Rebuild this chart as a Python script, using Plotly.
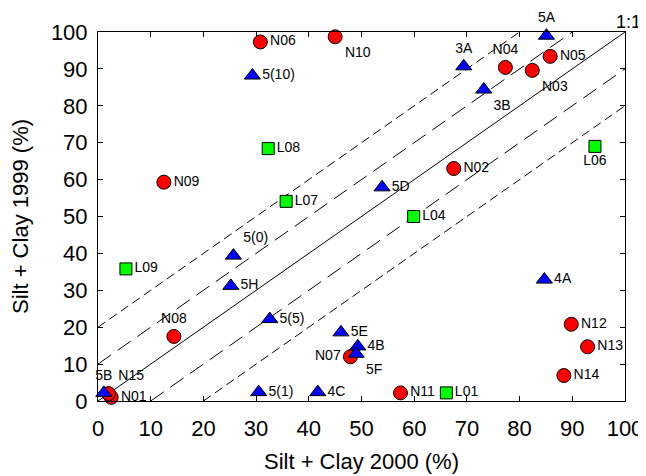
import plotly.graph_objects as go

# N sites (red circles)
n_names = ["N01", "N02", "N03", "N04", "N05", "N06", "N07", "N08",
           "N09", "N10", "N11", "N12", "N13", "N14", "N15"]
n_x = [2.5, 67.5, 82.4, 77.3, 85.8, 30.8, 47.9, 14.4, 12.5, 45.0, 57.4, 89.8, 92.9, 88.4, 2.0]
n_y = [1.0, 63.0, 89.6, 90.4, 93.4, 97.3, 12.0, 17.5, 59.3, 98.7, 2.2, 20.8, 14.7, 6.9, 2.0]

# numbered sites (blue triangles)
t_names = ["3A", "3B", "4A", "4B", "4C", "5A", "5B", "5D", "5E", "5F",
           "5H", "5(0)", "5(1)", "5(5)", "5(10)"]
t_x = [69.4, 73.2, 84.7, 49.3, 41.7, 85.1, 1.1, 53.9, 46.1, 49.0, 25.2, 25.7, 30.5, 32.6, 29.3]
t_y = [90.7, 84.4, 32.9, 14.8, 2.4, 99.0, 2.2, 57.9, 18.6, 12.8, 31.2, 39.4, 2.4, 22.2, 88.2]

# L sites (green squares)
l_names = ["L01", "L04", "L06", "L07", "L08", "L09"]
l_x = [66.1, 59.9, 94.3, 35.7, 32.3, 5.3]
l_y = [2.2, 50.0, 69.0, 54.1, 68.4, 35.8]

# offsets of the reference lines from 1:1
offsets = [-20, -10, 0, 10, 20]

# label placement (default: middle right)
label_pos = {
    "N03": "bottom right", "N04": "top center", "N06": "middle right",
    "N07": "middle left", "N08": "top center", "N10": "bottom right",
    "N15": "top right",
    "3A": "top center", "3B": "bottom right", "5A": "top center",
    "5B": "top center", "5F": "bottom right", "5(0)": "top right",
    "L06": "bottom center",
}

font = "Liberation Sans, Arial, sans-serif"
fig = go.Figure()

dash_styles = {-20: "9px,5px", -10: "16px,8px", 0: "solid", 10: "16px,8px", 20: "9px,5px"}
for o in offsets:
    x0, x1 = max(0, -o), min(100, 100 - o)
    fig.add_trace(go.Scatter(x=[x0, x1], y=[x0 + o, x1 + o], mode="lines",
                             line=dict(color="black", width=1, dash=dash_styles[o]),
                             hoverinfo="skip", showlegend=False))


def add_points(names, xs, ys, symbol, color, size):
    fig.add_trace(go.Scatter(
        x=xs, y=ys, text=names, mode="markers+text",
        textposition=[label_pos.get(n, "middle right") for n in names],
        textfont=dict(family=font, size=14, color="black"),
        marker=dict(symbol=symbol, color=color, size=size,
                    line=dict(color="black", width=1)),
        cliponaxis=False, showlegend=False))


add_points(n_names, n_x, n_y, "circle", "#ff0000", 14)
add_points(t_names, t_x, t_y, "triangle-up", "#0000ff", 14)
add_points(l_names, l_x, l_y, "square", "#00ff00", 12)

axis = dict(range=[0, 100], dtick=10, showline=True, linecolor="black", linewidth=1,
            mirror="allticks", ticks="inside", ticklen=5, tickcolor="black",
            showgrid=False, zeroline=False, automargin=False,
            tickfont=dict(family=font, size=22, color="black"))

# page body adds 8px around the figure, so the figure is 8px smaller each way
fig.update_layout(
    width=638, height=468,
    margin=dict(l=90, r=21, t=24, b=75),
    plot_bgcolor="white", paper_bgcolor="white",
    xaxis=dict(axis, ticklabelstandoff=8,
               title=dict(text="Silt + Clay 2000 (%)", standoff=13,
                          font=dict(family=font, size=22, color="black"))),
    yaxis=dict(axis, ticklabelstandoff=5,
               title=dict(text="Silt + Clay 1999 (%)", standoff=16,
                          font=dict(family=font, size=22, color="black"))),
    annotations=[dict(text="1:1", x=1, y=1, xref="paper", yref="paper",
                      xanchor="center", yanchor="bottom", xshift=3, yshift=-2,
                      showarrow=False, font=dict(family=font, size=18, color="black"))],
)

fig.write_html("out.html")
